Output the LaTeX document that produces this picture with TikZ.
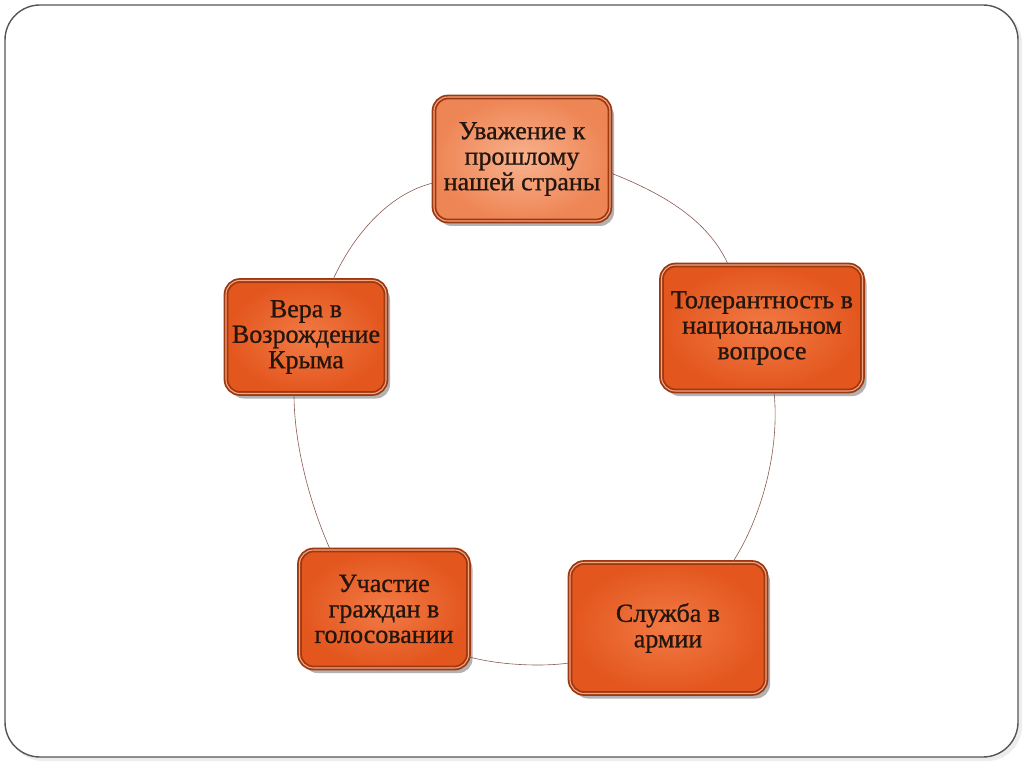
\documentclass[tikz,border=0pt]{standalone}
\usepackage{fontspec}
\setmainfont[FakeBold=1.2]{Liberation Serif}
\newfontfamily\boxfont[FakeBold=0.9]{Liberation Serif}
\usetikzlibrary{shadows}
\definecolor{frameC}{HTML}{555555}
\definecolor{edgeC}{HTML}{9C3812}
\definecolor{rimC}{HTML}{F4A57E}
\definecolor{txtC}{HTML}{24160F}
\definecolor{arcC}{HTML}{8A5A50}
\definecolor{lightIn}{HTML}{F8B28E}
\definecolor{lightOut}{HTML}{EE8555}
\definecolor{darkIn}{HTML}{F27A45}
\definecolor{darkOut}{HTML}{E3561E}
\begin{document}
\begin{tikzpicture}[x=1pt,y=-1pt,
  box/.style={rectangle, rounded corners=14pt, draw=edgeC, line width=1.8pt,
    double=rimC, double distance=1.1pt, text=txtC, align=center,
    font=\boxfont\fontsize{26}{25.5}\selectfont, inner sep=4pt,
    drop shadow={shadow xshift=4pt, shadow yshift=-5pt, fill=black, opacity=0.3}},
  lightbox/.style={box, inner color=lightIn, outer color=lightOut},
  darkbox/.style={box, inner color=darkIn, outer color=darkOut},
  arc/.style={draw=arcC, line width=0.6pt}]
\useasboundingbox (0,0) rectangle (1024,767);
\fill[black!7, rounded corners=35pt] (8,8) rectangle (1022,761);
\draw[frameC, line width=1.4pt, fill=white, rounded corners=35pt] (5,5) rectangle (1018,757);

\node[lightbox, minimum width=176pt, minimum height=124pt] (top) at (522,159) {Уважение к\\прошлому\\нашей страны};
\node[darkbox, minimum width=160pt, minimum height=113pt] (left) at (306,337) {Вера в\\Возрождение\\Крыма};
\node[darkbox, minimum width=201pt, minimum height=126pt] (right) at (762,328) {Толерантность в\\национальном\\вопросе};
\node[darkbox, minimum width=196pt, minimum height=131pt] (br) at (668,628) {Служба в\\армии};
\node[darkbox, minimum width=169pt, minimum height=118pt] (bl) at (384,609) {Участие\\граждан в\\голосовании};

\draw[arc] ([yshift=-24pt]top.west) .. controls +(-42,10) and +(22,-48) .. ([xshift=27pt]left.north);
\draw[arc] ([yshift=-14pt]top.east) .. controls +(45,18) and +(-22,-48) .. ([xshift=-34pt]right.north);
\draw[arc] ([xshift=-12pt]left.south) .. controls +(0,50) and +(-20,-45) .. ([xshift=-54pt]bl.north);
\draw[arc] ([xshift=12pt]right.south) .. controls +(6,57) and +(29,-45) .. ([xshift=65pt]br.north);
\draw[arc] ([yshift=-48pt]bl.east) .. controls +(30,8) and +(-28,4) .. ([yshift=-35pt]br.west);
\end{tikzpicture}
\end{document}
